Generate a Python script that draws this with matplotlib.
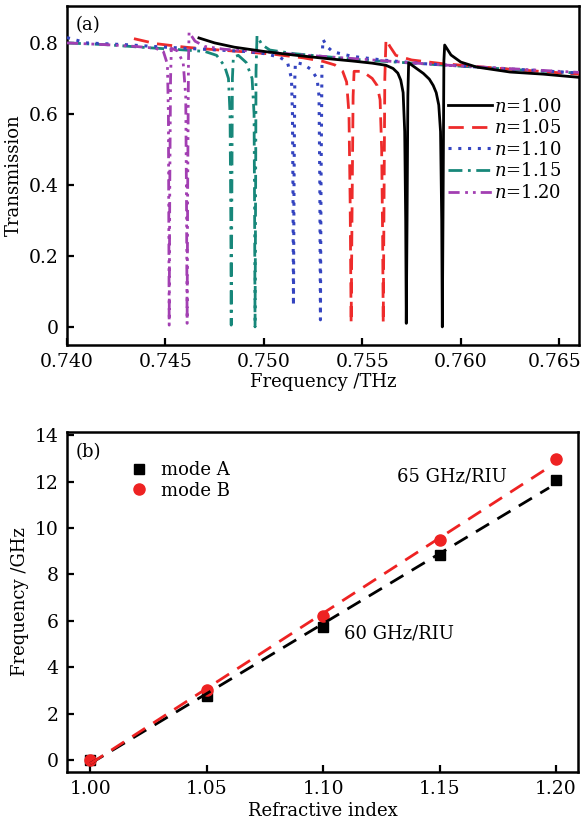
import numpy as np
import matplotlib.pyplot as plt
from matplotlib.transforms import ScaledTranslation

plt.rcParams['font.family'] = ['DejaVu Serif']
plt.rcParams['mathtext.fontset'] = 'dejavuserif'

# (a) transmission spectra
f_100 = [0.7467, 0.7475, 0.7485, 0.7500, 0.7515, 0.7530, 0.7545, 0.7555, 0.7562, 0.75656,
         0.7568, 0.75695, 0.75707, 0.75715, 0.75720, 0.75723, 0.75727, 0.75731, 0.75735,
         0.7575, 0.7578, 0.7581, 0.7584, 0.7586, 0.75875, 0.75888, 0.75897, 0.75903,
         0.75906, 0.75910, 0.75914, 0.75918, 0.7595, 0.7600, 0.7608, 0.7625, 0.7642, 0.7660]
t_100 = [0.814, 0.800, 0.788, 0.776, 0.766, 0.757, 0.749, 0.743, 0.737, 0.728,
         0.715, 0.695, 0.660, 0.55, 0.30, 0.01, 0.30, 0.65, 0.744,
         0.738, 0.726, 0.714, 0.698, 0.680, 0.660, 0.625, 0.55, 0.30,
         0.00, 0.35, 0.75, 0.794, 0.766, 0.746, 0.732, 0.718, 0.712, 0.703]

f_105 = [0.7434, 0.7445, 0.7460, 0.7475, 0.7490, 0.7505, 0.7520, 0.7530, 0.7536, 0.7540,
         0.75420, 0.75432, 0.75438, 0.75443, 0.75448, 0.75453, 0.75458, 0.7550, 0.7555,
         0.75575, 0.7559, 0.75598, 0.75603, 0.75606, 0.75610, 0.75614, 0.7562, 0.7564,
         0.7567, 0.7575, 0.7590, 0.7605, 0.7620, 0.7640, 0.7660]
t_105 = [0.812, 0.798, 0.788, 0.781, 0.775, 0.768, 0.758, 0.748, 0.738, 0.72,
         0.69, 0.60, 0.35, 0.01, 0.35, 0.65, 0.72, 0.72, 0.70,
         0.68, 0.64, 0.50, 0.25, 0.01, 0.35, 0.70, 0.81, 0.79,
         0.765, 0.752, 0.742, 0.735, 0.728, 0.720, 0.712]

f_110 = [0.7400, 0.7410, 0.7430, 0.7450, 0.7470, 0.7490, 0.7500, 0.7508, 0.7512, 0.7514,
         0.75145, 0.75148, 0.7515, 0.75153, 0.75157, 0.7516, 0.7520, 0.7524, 0.7527,
         0.75280, 0.75284, 0.75287, 0.7529, 0.75295, 0.7530, 0.7532, 0.7535, 0.7545,
         0.7560, 0.7580, 0.7600, 0.7620, 0.7640, 0.7660]
t_110 = [0.815, 0.800, 0.795, 0.788, 0.782, 0.776, 0.770, 0.760, 0.745, 0.70,
         0.60, 0.35, 0.06, 0.40, 0.70, 0.745, 0.740, 0.725, 0.70,
         0.65, 0.40, 0.02, 0.40, 0.75, 0.81, 0.79, 0.775, 0.762,
         0.752, 0.742, 0.735, 0.728, 0.722, 0.715]

f_115 = [0.7400, 0.7420, 0.7440, 0.7460, 0.7470, 0.7476, 0.7480, 0.7482, 0.74828, 0.74832,
         0.74834, 0.74837, 0.7484, 0.74845, 0.7487, 0.7491, 0.7494, 0.7495, 0.74953,
         0.74955, 0.74958, 0.7496, 0.74965, 0.7499, 0.7503, 0.7515, 0.7530, 0.7550,
         0.7570, 0.7590, 0.7610, 0.7630, 0.7650, 0.7660]
t_115 = [0.800, 0.795, 0.787, 0.780, 0.776, 0.765, 0.735, 0.70, 0.60, 0.30,
         0.005, 0.35, 0.70, 0.76, 0.765, 0.745, 0.70, 0.60, 0.30,
         0.00, 0.40, 0.72, 0.82, 0.795, 0.780, 0.770, 0.762, 0.752,
         0.745, 0.738, 0.731, 0.724, 0.718, 0.715]

f_120 = [0.7400, 0.7420, 0.7435, 0.7445, 0.7449, 0.7451, 0.74515, 0.74517, 0.74519, 0.74522,
         0.74526, 0.7453, 0.7456, 0.7459, 0.74603, 0.74607, 0.7461, 0.74613, 0.74617,
         0.7462, 0.7465, 0.7470, 0.7480, 0.7500, 0.7520, 0.7540, 0.7560, 0.7580,
         0.7600, 0.7620, 0.7640, 0.7660]
t_120 = [0.800, 0.795, 0.790, 0.785, 0.775, 0.74, 0.60, 0.30, 0.005, 0.40,
         0.70, 0.785, 0.778, 0.745, 0.65, 0.35, 0.01, 0.40, 0.75,
         0.83, 0.805, 0.790, 0.782, 0.775, 0.766, 0.758, 0.750, 0.742,
         0.735, 0.729, 0.723, 0.717]

# (b) resonance shift
n_index = [1.00, 1.05, 1.10, 1.15, 1.20]
shift_a = [0.0, 2.78, 5.75, 8.83, 12.05]
shift_b = [0.0, 3.0, 6.2, 9.48, 12.97]

fig = plt.figure(figsize=(5.82, 8.23), dpi=100)
ax1 = fig.add_axes([0.1151, 0.5808, 0.8797, 0.4119])
ax2 = fig.add_axes([0.1151, 0.0620, 0.8780, 0.4130])

curves = [
    (f_100, t_100, 'black', '-', 2.0, 6),
    (f_105, t_105, '#ee2b2b', (0, (5.5, 3)), 2.0, 3),
    (f_110, t_110, '#3444c0', (0, (1, 2.2)), 2.2, 4),
    (f_115, t_115, '#17877a', (0, (5, 2, 1, 2)), 2.0, 2),
    (f_120, t_120, '#a23fb2', (0, (4, 2, 1, 1.8, 1, 1.8)), 2.0, 5),
]
labels = ['$n$=1.00', '$n$=1.05', '$n$=1.10', '$n$=1.15', '$n$=1.20']
for (f, t, c, ls, lw, z), lab in zip(curves, labels):
    ax1.plot(f, t, color=c, linestyle=ls, lw=lw, zorder=z, label=lab)

ax1.set_xlim(0.740, 0.766)
ax1.set_ylim(-0.051, 0.904)
ax1.set_xticks([0.740, 0.745, 0.750, 0.755, 0.760, 0.765])
ax1.set_xticklabels(['0.740', '0.745', '0.750', '0.755', '0.760', '0.765'])
ax1.set_yticks([0, 0.2, 0.4, 0.6, 0.8])
ax1.set_yticklabels(['0', '0.2', '0.4', '0.6', '0.8'])
ax1.set_xlabel('Frequency /THz', fontsize=13, labelpad=1)
ax1.set_ylabel('Transmission', fontsize=13, labelpad=4)
ax1.text(0.041, 0.944, '(a)', transform=ax1.transAxes, fontsize=13,
         ha='center', va='center')
ax1.legend(loc='upper left', bbox_to_anchor=(0.745, 0.73), frameon=False,
           fontsize=13, handlelength=2.4, handletextpad=0.15, labelspacing=0.2,
           borderaxespad=0, borderpad=0)

# fitted lines for panel (b)
n_arr = np.array(n_index)
ka, ba = np.polyfit(n_arr, shift_a, 1)
kb, bb = np.polyfit(n_arr, shift_b, 1)
n_fit = np.array([1.0, 1.197])
ax2.plot(n_arr, shift_a, 's', color='black', ms=7, zorder=2, label='mode A')
ax2.plot(n_arr, shift_b, 'o', color='#ee2222', ms=8, zorder=2, label='mode B')
ax2.plot(n_fit, ka * n_fit + ba, color='black', lw=2, dashes=(5.5, 3.5), zorder=3)
ax2.plot(n_fit, kb * n_fit + bb, color='#ee2222', lw=2, dashes=(5.5, 3.5), zorder=3)

ax2.set_xlim(0.990, 1.2094)
ax2.set_ylim(-0.51, 14.13)
ax2.set_xticks(n_index)
ax2.set_xticklabels(['1.00', '1.05', '1.10', '1.15', '1.20'])
ax2.set_yticks([0, 2, 4, 6, 8, 10, 12, 14])
ax2.set_xlabel('Refractive index', fontsize=13, labelpad=3)
ax2.set_ylabel('Frequency /GHz', fontsize=13, labelpad=4)
ax2.text(0.041, 0.94, '(b)', transform=ax2.transAxes, fontsize=13,
         ha='center', va='center')
ax2.text(1.1554, 12.2, '65 GHz/RIU', fontsize=13, ha='center', va='center')
ax2.text(1.1326, 5.44, '60 GHz/RIU', fontsize=13, ha='center', va='center')
ax2.legend(loc='upper left', bbox_to_anchor=(0.12, 0.915), frameon=False,
           fontsize=13, handlelength=1.2, handletextpad=0.6, labelspacing=0.15,
           borderaxespad=0, borderpad=0)

for ax in (ax1, ax2):
    for s in ax.spines.values():
        s.set_linewidth(1.8)
    ax.tick_params(direction='in', length=5, width=1.6, labelsize=13.5, pad=6,
                   top=False, right=False)

# keep the last frequency label inside the picture
last = ax1.get_xticklabels()[-1]
last.set_transform(last.get_transform() + ScaledTranslation(-3 / 72, 0, fig.dpi_scale_trans))

fig.savefig('out.png', dpi=100)
